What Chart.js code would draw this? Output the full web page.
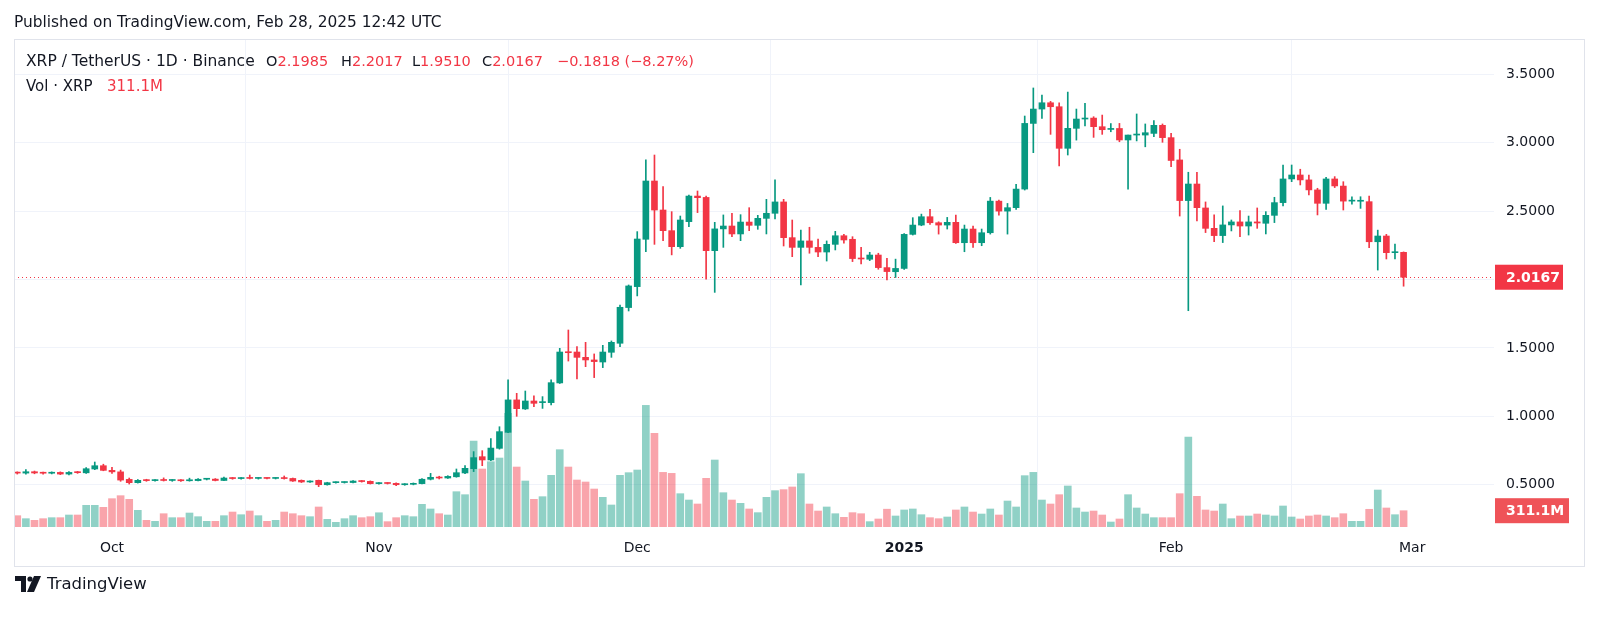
<!DOCTYPE html>
<html>
<head>
<meta charset="utf-8">
<script src="https://cdn.jsdelivr.net/npm/chart.js@4.4.1/dist/chart.umd.min.js"></script>
<style>
  html, body { margin: 0; padding: 0; background: #fff; }
  #wrap { position: relative; width: 1600px; height: 618px; overflow: hidden; font-family: 'DejaVu Sans', sans-serif; color: #131722; }
  #chart { position: absolute; left: 0; top: 0; }
  .t { position: absolute; white-space: nowrap; line-height: 1; }
  .r { color: #F23645; }
</style>
</head>
<body>
<div id="wrap">
  <canvas id="chart" width="1600" height="618"></canvas>
  <div class="t" style="left:14px;top:15px;font-size:15.4px">Published on TradingView.com, Feb 28, 2025 12:42 UTC</div>
  <div class="t" style="left:26px;top:54px;font-size:15.5px">XRP / TetherUS · 1D · Binance</div>
  <div class="t" style="left:266px;top:54px;font-size:14.5px">O<span class="r">2.1985</span></div>
  <div class="t" style="left:341px;top:54px;font-size:14.5px">H<span class="r">2.2017</span></div>
  <div class="t" style="left:412px;top:54px;font-size:14.5px">L<span class="r">1.9510</span></div>
  <div class="t" style="left:482px;top:54px;font-size:14.5px">C<span class="r">2.0167</span></div>
  <div class="t r" style="left:557px;top:54px;font-size:14.5px">−0.1818 (−8.27%)</div>
  <div class="t" style="left:26px;top:79px;font-size:15px">Vol · XRP</div>
  <div class="t r" style="left:107px;top:79px;font-size:15px">311.1M</div>
  <svg style="position:absolute;left:15px;top:576px" width="26" height="16" viewBox="0 0 26 16">
    <path d="M0 0 H11 V16 H6 V5 H0 Z" fill="#131722"/>
    <circle cx="15" cy="3" r="2.6" fill="#131722"/>
    <path d="M19 0 H26 L19 16 H12 Z" fill="#131722"/>
  </svg>
  <div class="t" style="left:47px;top:576px;font-size:16.5px">TradingView</div>
</div>
<script>
// daily candles, Sep 20 2024 .. Feb 28 2025
const openP = [
  0.588, 0.585, 0.595, 0.586, 0.584, 0.590, 0.578, 0.590, 0.587, 0.615,
  0.639, 0.605, 0.594, 0.539, 0.515, 0.532, 0.530, 0.533, 0.531, 0.532,
  0.529, 0.530, 0.540, 0.541, 0.531, 0.549, 0.545, 0.548, 0.546, 0.548,
  0.546, 0.548, 0.546, 0.532, 0.520, 0.532, 0.500, 0.515, 0.516, 0.516,
  0.527, 0.525, 0.508, 0.512, 0.510, 0.500, 0.503, 0.508, 0.540, 0.554,
  0.549, 0.558, 0.586, 0.617, 0.705, 0.681, 0.766, 0.883, 1.120, 1.054,
  1.112, 1.100, 1.100, 1.244, 1.470, 1.470, 1.431, 1.412, 1.397, 1.468,
  1.534, 1.795, 1.948, 2.294, 2.720, 2.508, 2.357, 2.240, 2.423, 2.610,
  2.600, 2.211, 2.370, 2.391, 2.333, 2.420, 2.396, 2.447, 2.484, 2.567,
  2.306, 2.235, 2.282, 2.235, 2.201, 2.257, 2.320, 2.294, 2.155, 2.148,
  2.179, 2.087, 2.057, 2.081, 2.330, 2.398, 2.459, 2.415, 2.398, 2.418,
  2.269, 2.369, 2.269, 2.342, 2.573, 2.500, 2.525, 2.661, 3.141, 3.246,
  3.292, 3.263, 2.959, 3.105, 3.173, 3.180, 3.117, 3.097, 3.104, 3.020,
  3.056, 3.056, 3.068, 3.127, 3.037, 2.874, 2.577, 2.698, 2.523, 2.374,
  2.321, 2.399, 2.421, 2.391, 2.421, 2.411, 2.469, 2.562, 2.735, 2.764,
  2.728, 2.655, 2.557, 2.735, 2.683, 2.573, 2.572, 2.569, 2.276, 2.318,
  2.196, 2.1985
];
const highP = [
  0.594, 0.610, 0.600, 0.592, 0.594, 0.594, 0.596, 0.597, 0.625, 0.666,
  0.650, 0.627, 0.607, 0.549, 0.538, 0.540, 0.538, 0.550, 0.537, 0.537,
  0.548, 0.545, 0.546, 0.545, 0.555, 0.553, 0.552, 0.571, 0.552, 0.551,
  0.551, 0.564, 0.549, 0.535, 0.528, 0.534, 0.518, 0.521, 0.521, 0.530,
  0.531, 0.528, 0.516, 0.515, 0.513, 0.508, 0.513, 0.545, 0.583, 0.562,
  0.566, 0.615, 0.640, 0.742, 0.749, 0.837, 0.924, 1.266, 1.168, 1.185,
  1.149, 1.144, 1.266, 1.497, 1.631, 1.509, 1.541, 1.456, 1.519, 1.551,
  1.814, 1.960, 2.350, 2.874, 2.910, 2.679, 2.496, 2.464, 2.618, 2.647,
  2.610, 2.418, 2.472, 2.484, 2.474, 2.525, 2.469, 2.586, 2.728, 2.586,
  2.435, 2.362, 2.382, 2.296, 2.282, 2.352, 2.330, 2.313, 2.235, 2.199,
  2.192, 2.155, 2.149, 2.335, 2.452, 2.478, 2.513, 2.422, 2.454, 2.471,
  2.398, 2.391, 2.369, 2.600, 2.581, 2.556, 2.695, 3.195, 3.400, 3.348,
  3.302, 3.292, 3.370, 3.246, 3.288, 3.190, 3.202, 3.140, 3.141, 3.056,
  3.210, 3.137, 3.161, 3.137, 3.068, 2.952, 2.784, 2.784, 2.567, 2.472,
  2.538, 2.435, 2.503, 2.464, 2.523, 2.496, 2.601, 2.837, 2.837, 2.806,
  2.764, 2.667, 2.747, 2.752, 2.715, 2.605, 2.605, 2.610, 2.361, 2.330,
  2.259, 2.2017
];
const lowP = [
  0.578, 0.578, 0.580, 0.578, 0.579, 0.574, 0.572, 0.583, 0.583, 0.610,
  0.602, 0.583, 0.525, 0.505, 0.512, 0.525, 0.526, 0.527, 0.525, 0.524,
  0.526, 0.528, 0.535, 0.528, 0.529, 0.540, 0.540, 0.542, 0.541, 0.542,
  0.542, 0.541, 0.524, 0.516, 0.517, 0.486, 0.497, 0.511, 0.512, 0.513,
  0.519, 0.505, 0.504, 0.505, 0.493, 0.496, 0.499, 0.506, 0.535, 0.542,
  0.546, 0.555, 0.580, 0.596, 0.639, 0.676, 0.760, 0.880, 1.000, 1.050,
  1.070, 1.058, 1.083, 1.240, 1.404, 1.273, 1.363, 1.283, 1.356, 1.431,
  1.509, 1.770, 1.880, 2.204, 2.257, 2.284, 2.180, 2.228, 2.386, 2.489,
  2.002, 1.906, 2.235, 2.313, 2.284, 2.357, 2.367, 2.333, 2.442, 2.245,
  2.167, 1.960, 2.192, 2.167, 2.135, 2.216, 2.265, 2.131, 2.114, 2.138,
  2.075, 1.997, 2.015, 2.074, 2.325, 2.393, 2.403, 2.332, 2.369, 2.264,
  2.203, 2.235, 2.247, 2.332, 2.471, 2.332, 2.513, 2.654, 2.927, 3.178,
  3.061, 2.830, 2.910, 3.019, 3.122, 3.039, 3.061, 3.080, 3.007, 2.660,
  3.013, 2.970, 3.044, 3.003, 2.825, 2.464, 1.772, 2.428, 2.343, 2.277,
  2.270, 2.355, 2.313, 2.325, 2.374, 2.333, 2.416, 2.538, 2.715, 2.691,
  2.618, 2.472, 2.513, 2.672, 2.508, 2.551, 2.520, 2.232, 2.069, 2.150,
  2.150, 1.951
];
const closeP = [
  0.585, 0.595, 0.586, 0.584, 0.588, 0.578, 0.590, 0.588, 0.617, 0.639,
  0.605, 0.594, 0.534, 0.515, 0.532, 0.530, 0.533, 0.531, 0.532, 0.529,
  0.535, 0.540, 0.541, 0.531, 0.549, 0.545, 0.548, 0.546, 0.548, 0.546,
  0.547, 0.545, 0.527, 0.520, 0.523, 0.500, 0.515, 0.517, 0.518, 0.527,
  0.523, 0.508, 0.512, 0.509, 0.500, 0.503, 0.510, 0.540, 0.554, 0.549,
  0.561, 0.588, 0.620, 0.698, 0.681, 0.768, 0.888, 1.120, 1.056, 1.112,
  1.095, 1.103, 1.246, 1.470, 1.465, 1.431, 1.412, 1.400, 1.470, 1.541,
  1.797, 1.953, 2.296, 2.720, 2.508, 2.357, 2.240, 2.435, 2.610, 2.598,
  2.211, 2.370, 2.391, 2.333, 2.420, 2.396, 2.447, 2.484, 2.567, 2.306,
  2.235, 2.282, 2.235, 2.201, 2.257, 2.320, 2.289, 2.153, 2.150, 2.179,
  2.087, 2.058, 2.081, 2.330, 2.398, 2.459, 2.415, 2.398, 2.418, 2.269,
  2.369, 2.269, 2.342, 2.573, 2.500, 2.525, 2.661, 3.141, 3.246, 3.292,
  3.263, 2.959, 3.105, 3.173, 3.180, 3.117, 3.095, 3.100, 3.020, 3.056,
  3.058, 3.073, 3.127, 3.037, 2.870, 2.577, 2.698, 2.525, 2.374, 2.321,
  2.399, 2.421, 2.391, 2.421, 2.413, 2.469, 2.562, 2.735, 2.764, 2.728,
  2.655, 2.557, 2.735, 2.684, 2.573, 2.575, 2.577, 2.276, 2.318, 2.196,
  2.1985, 2.0167
];
// volume in millions of XRP
const volumeM = [
  216, 159, 127, 159, 178, 178, 229, 229, 414, 414,
  376, 541, 598, 528, 318, 127, 108, 254, 178, 178,
  267, 197, 108, 108, 216, 286, 235, 305, 216, 108,
  127, 286, 254, 216, 197, 382, 146, 89, 159, 216,
  178, 197, 272, 102, 178, 216, 197, 433, 344, 254,
  229, 674, 617, 1642, 1107, 1247, 1317, 2170, 1145, 878,
  528, 579, 986, 1476, 1145, 897, 859, 725, 566, 420,
  986, 1037, 1088, 2322, 1788, 1043, 1024, 636, 515, 439,
  929, 1279, 655, 515, 452, 344, 274, 566, 694, 713,
  764, 1018, 439, 305, 382, 254, 185, 274, 254, 102,
  153, 340, 210, 325, 344, 235, 178, 159, 191, 325,
  382, 286, 248, 344, 229, 496, 382, 980, 1043, 515,
  439, 617, 783, 363, 286, 305, 229, 95, 153, 617,
  363, 248, 178, 178, 178, 636, 1718, 586, 325, 305,
  439, 159, 210, 210, 248, 229, 210, 401, 191, 153,
  210, 229, 210, 178, 254, 108, 108, 338, 706, 363,
  235, 311.1
];
const monthTicks = [11, 42, 72, 103, 134, 162];
const monthLabels = ['Oct', 'Nov', 'Dec', '2025', 'Feb', 'Mar'];
const priceTicks = [0.5, 1, 1.5, 2, 2.5, 3, 3.5];

const UP = '#089981';
const DOWN = '#F23645';
const isUp = closeP.map((c, i) => c >= openP[i]);

const wickData = highP.map((h, i) => ({ x: i, y: [lowP[i], h] }));
const bodyData = openP.map((o, i) => ({ x: i, y: [o, closeP[i]] }));
const volData = volumeM.map((v, i) => ({ x: i, y: v }));

const lastClose = closeP[closeP.length - 1];
const lastVol = volumeM[volumeM.length - 1];

const overlay = {
  id: 'overlay',
  beforeDatasetsDraw(chart) {
    const ctx = chart.ctx;
    const area = chart.chartArea;
    const y = Math.round(chart.scales.y.getPixelForValue(lastClose)) + 0.5;
    ctx.save();
    ctx.strokeStyle = DOWN;
    ctx.lineWidth = 1;
    ctx.setLineDash([1, 3]);
    ctx.beginPath();
    ctx.moveTo(area.left, y);
    ctx.lineTo(area.right, y);
    ctx.stroke();
    ctx.restore();
  },
  afterDraw(chart) {
    const ctx = chart.ctx;
    const area = chart.chartArea;
    ctx.save();
    // price tag
    const py = chart.scales.y.getPixelForValue(lastClose);
    ctx.fillStyle = DOWN;
    ctx.fillRect(area.right + 1, py - 12.5, 68, 25);
    ctx.fillStyle = '#fff';
    ctx.font = 'bold 14px "DejaVu Sans"';
    ctx.textBaseline = 'middle';
    ctx.textAlign = 'left';
    ctx.fillText(lastClose.toFixed(4), area.right + 12, py + 1);
    // volume tag
    const vy = chart.scales.yv.getPixelForValue(lastVol);
    ctx.fillStyle = '#ef5358';
    ctx.fillRect(area.right + 1, vy - 12.5, 74, 25);
    ctx.fillStyle = '#fff';
    ctx.fillText(lastVol.toFixed(1) + 'M', area.right + 12, vy + 1);
    // outer frame
    ctx.strokeStyle = '#e0e3eb';
    ctx.lineWidth = 1;
    ctx.strokeRect(14.5, 39.5, 1570, 527);
    ctx.restore();
  }
};

new Chart(document.getElementById('chart'), {
  type: 'bar',
  data: {
    datasets: [
      {
        data: bodyData,
        backgroundColor: isUp.map((u) => (u ? UP : DOWN)),
        barThickness: 6,
        minBarLength: 1,
        grouped: false,
        order: 1,
        yAxisID: 'y',
      },
      {
        data: wickData,
        backgroundColor: isUp.map((u) => (u ? UP : DOWN)),
        barThickness: 1,
        grouped: false,
        order: 2,
        yAxisID: 'y',
      },
      {
        data: volData,
        backgroundColor: isUp.map((u) => (u ? 'rgba(8,153,129,0.45)' : 'rgba(242,54,69,0.45)')),
        barThickness: 7,
        grouped: false,
        order: 3,
        yAxisID: 'yv',
      },
    ],
  },
  options: {
    responsive: false,
    animation: false,
    devicePixelRatio: 1,
    layout: { padding: { left: 14, top: 39, right: 15, bottom: 51 } },
    plugins: { legend: { display: false }, tooltip: { enabled: false } },
    scales: {
      x: {
        type: 'linear',
        offset: false,
        min: -0.38,
        max: 171.5,
        afterBuildTicks: (s) => { s.ticks = monthTicks.map((v) => ({ value: v })); },
        afterFit: (s) => { s.height = 40; },
        grid: { color: '#f0f3fa', drawTicks: false },
        border: { display: false },
        ticks: {
          autoSkip: false,
          maxRotation: 0,
          padding: 13,
          color: '#131722',
          font: (ctx) => ({ family: 'DejaVu Sans', size: 14, weight: ctx.tick && ctx.tick.value === 103 ? 'bold' : 'normal' }),
          callback: (v) => monthLabels[monthTicks.indexOf(v)],
        },
      },
      y: {
        position: 'right',
        min: 0.191,
        max: 3.758,
        afterBuildTicks: (s) => { s.ticks = priceTicks.map((v) => ({ value: v })); },
        afterFit: (s) => { s.width = 91; },
        grid: { color: '#f0f3fa', drawTicks: false },
        border: { display: false },
        ticks: {
          padding: 12,
          color: '#131722',
          font: { family: 'DejaVu Sans', size: 14 },
          callback: (v) => v.toFixed(4),
        },
      },
      yv: {
        display: false,
        min: 0,
        max: 9316,
      },
    },
  },
  plugins: [overlay],
});
</script>
</body>
</html>
